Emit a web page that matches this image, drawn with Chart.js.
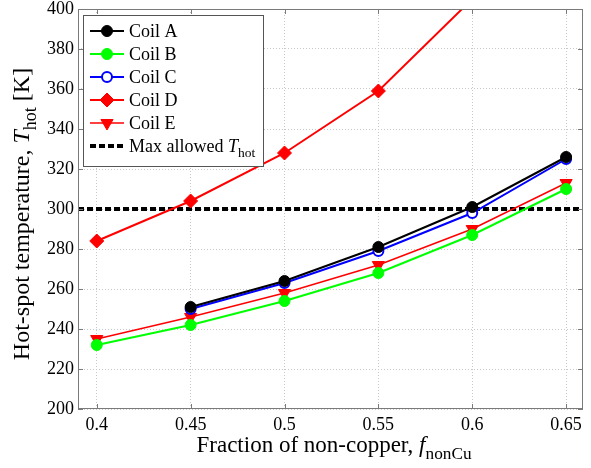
<!DOCTYPE html>
<html>
<head>
<meta charset="utf-8">
<script src="https://cdn.jsdelivr.net/npm/chart.js@4"></script>
<style>
  html, body { margin: 0; padding: 0; background: #fff; }
  #wrap { width: 591px; height: 468px; }
</style>
</head>
<body>
<div id="wrap"><canvas id="grafica" width="591" height="468"></canvas></div>
<script>
// fracción de no-cobre (eje x)
const fNonCu = [0.4, 0.45, 0.5, 0.55, 0.6, 0.65];
// temperaturas de punto caliente [K]
const coilA = [null, 251, 264, 281, 301, 326];
const coilB = [232, 242, 254, 268, 287, 310];
const coilC = [null, 250, 263, 279, 298, 325];
const coilD = [284, 304, 328, 359, 405, 462];
const coilE = [235, 246, 258, 272, 290, 313];
const maxAllowed = 300;
const xRange = [0.39, 0.659];
const yTicks = [200, 220, 240, 260, 280, 300, 320, 340, 360, 380, 400];

const FONT = '"Liberation Serif", "Times New Roman", serif';

function puntos(valores) {
  const out = [];
  valores.forEach((v, i) => { if (v !== null) out.push({ x: fNonCu[i], y: v }); });
  return out;
}

function serie(label, valores, color, extra) {
  return Object.assign({
    label: label,
    data: puntos(valores),
    borderColor: color,
    backgroundColor: color,
    borderWidth: 2,
    pointRadius: 5.5,
    pointHoverRadius: 5.5,
    pointBorderWidth: 1,
    pointBorderColor: color,
    pointBackgroundColor: color,
    pointStyle: 'circle',
    tension: 0,
    clip: 0
  }, extra || {});
}

const datasets = [
  serie('Coil A', coilA, '#000000'),
  serie('Coil B', coilB, '#00ff00'),
  serie('Coil C', coilC, '#0000ff', { pointBackgroundColor: '#ffffff', pointBorderWidth: 2, pointRadius: 5 }),
  serie('Coil D', coilD, '#ff0000', { pointStyle: 'rectRot', pointRadius: 7 }),
  serie('Coil E', coilE, '#ff0000', { pointStyle: 'triangle', pointRotation: 180, pointRadius: 7, borderWidth: 1.5 }),
  {
    label: 'Max allowed',
    data: [{ x: xRange[0], y: maxAllowed }, { x: xRange[1], y: maxAllowed }],
    borderColor: '#000000',
    borderWidth: 4,
    borderDash: [6, 3],
    pointRadius: 0,
    clip: 0
  }
];

// dibuja texto con partes en cursiva / subíndice
function textoRico(ctx, partes, x, y, size, align) {
  const medir = p => {
    ctx.font = (p.italic ? 'italic ' : '') + (p.sub ? size * 0.75 : size) + 'px ' + FONT;
    return ctx.measureText(p.t).width;
  };
  const total = partes.reduce((s, p) => s + medir(p), 0);
  let cx = align === 'center' ? x - total / 2 : x;
  ctx.textAlign = 'left';
  ctx.textBaseline = 'alphabetic';
  for (const p of partes) {
    const w = medir(p);
    ctx.fillText(p.t, cx, p.sub ? y + size * 0.3 : y);
    cx += w;
  }
}

const adornos = {
  id: 'adornos',
  afterDraw(chart) {
    const ctx = chart.ctx;
    const a = chart.chartArea;
    const xs = chart.scales.x, ys = chart.scales.y;
    ctx.save();
    // marco
    ctx.strokeStyle = '#7a7a7a';
    ctx.lineWidth = 1;
    ctx.strokeRect(a.left + 0.5, a.top + 0.5, a.right - a.left - 1, a.bottom - a.top - 1);
    // marcas hacia dentro
    ctx.beginPath();
    for (const v of fNonCu) {
      const px = Math.round(xs.getPixelForValue(v)) + 0.5;
      ctx.moveTo(px, a.bottom); ctx.lineTo(px, a.bottom - 5);
      ctx.moveTo(px, a.top); ctx.lineTo(px, a.top + 5);
    }
    for (const v of yTicks) {
      const py = Math.round(ys.getPixelForValue(v)) + 0.5;
      ctx.moveTo(a.left, py); ctx.lineTo(a.left + 5, py);
      ctx.moveTo(a.right, py); ctx.lineTo(a.right - 5, py);
    }
    ctx.stroke();

    // títulos de ejes
    ctx.fillStyle = '#000';
    textoRico(ctx, [
      { t: 'Fraction of non-copper, ' },
      { t: 'f', italic: true },
      { t: 'nonCu', sub: true }
    ], 334, 452, 23, 'center');

    ctx.save();
    ctx.translate(29, 214);
    ctx.rotate(-Math.PI / 2);
    textoRico(ctx, [
      { t: 'Hot-spot temperature, ' },
      { t: 'T', italic: true },
      { t: 'hot', sub: true },
      { t: ' [K]' }
    ], 0, 0, 24, 'center');
    ctx.restore();

    // leyenda
    const lx = 83.5, ly = 15.5, lw = 180, lh = 151;
    ctx.fillStyle = '#fff';
    ctx.fillRect(lx, ly, lw, lh);
    ctx.strokeStyle = '#555';
    ctx.lineWidth = 1;
    ctx.strokeRect(lx, ly, lw, lh);
    chart.data.datasets.forEach((ds, i) => {
      const yy = 31 + i * 23;
      ctx.save();
      ctx.strokeStyle = ds.borderColor;
      ctx.lineWidth = ds.borderWidth;
      ctx.setLineDash(ds.borderDash || []);
      ctx.beginPath();
      ctx.moveTo(90, yy); ctx.lineTo(124, yy);
      ctx.stroke();
      ctx.restore();
      if (ds.pointRadius > 0) {
        ctx.save();
        ctx.fillStyle = ds.pointBackgroundColor;
        ctx.strokeStyle = ds.pointBorderColor;
        ctx.lineWidth = ds.pointBorderWidth;
        ctx.setLineDash([]);
        Chart.helpers.drawPoint(ctx, {
          pointStyle: ds.pointStyle,
          radius: ds.pointRadius,
          rotation: ds.pointRotation || 0,
          borderWidth: ds.pointBorderWidth
        }, 107, yy);
        ctx.restore();
      }
      ctx.fillStyle = '#000';
      if (ds.label === 'Max allowed') {
        textoRico(ctx, [
          { t: 'Max allowed ' },
          { t: 'T', italic: true },
          { t: 'hot', sub: true }
        ], 129, yy + 6, 18, 'left');
      } else {
        textoRico(ctx, [{ t: ds.label }], 129, yy + 6, 18, 'left');
      }
    });
    ctx.restore();
  }
};

const grafica = document.getElementById('grafica');
new Chart(grafica, {
  type: 'line',
  data: { datasets: datasets },
  options: {
    responsive: false,
    animation: false,
    events: [],
    layout: { padding: { top: 9, right: 1, left: 0, bottom: 0 } },
    plugins: { legend: { display: false }, tooltip: { enabled: false } },
    scales: {
      x: {
        type: 'linear',
        min: xRange[0],
        max: xRange[1],
        afterFit: s => { s.height = 59; s.paddingLeft = 0; s.paddingRight = 0; },
        ticks: {
          stepSize: 0.05,
          includeBounds: false,
          color: '#000',
          padding: 5,
          font: { family: FONT, size: 18 },
          callback: v => String(Number(v.toFixed(2)))
        },
        grid: { color: '#c8c8c8', lineWidth: 1, drawTicks: false },
        border: { display: false, dash: [1, 2] }
      },
      y: {
        min: 200,
        max: 400,
        afterFit: s => { s.width = 78; s.paddingTop = 0; s.paddingBottom = 0; },
        ticks: {
          stepSize: 20,
          color: '#000',
          padding: 4,
          font: { family: FONT, size: 18 }
        },
        grid: { color: '#c8c8c8', lineWidth: 1, drawTicks: false },
        border: { display: false, dash: [1, 2] }
      }
    }
  },
  plugins: [adornos]
});
</script>
</body>
</html>
